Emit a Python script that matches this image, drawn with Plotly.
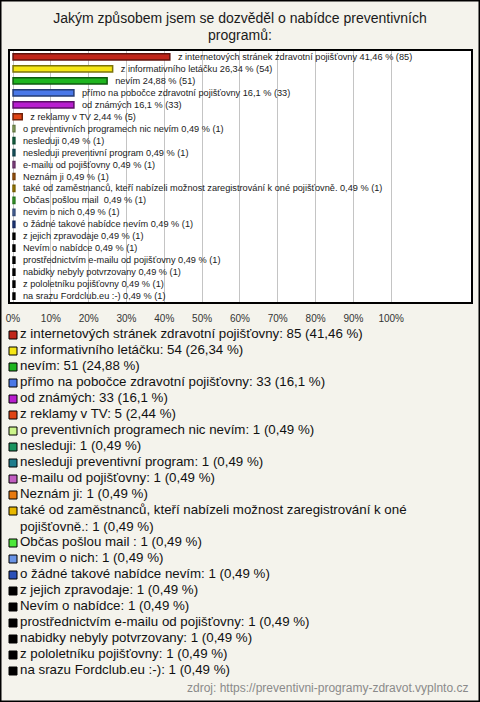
import textwrap
import plotly.graph_objects as go

W, H = 480, 702

title_lines = ["Jakým způsobem jsem se dozvěděl o nabídce preventivních", "programů:"]
source_text = "zdroj: https://preventivni-programy-zdravot.vyplnto.cz"

labels = [
    "z internetových stránek zdravotní pojišťovny",
    "z informativního letáčku",
    "nevím",
    "přímo na pobočce zdravotní pojišťovny",
    "od známých",
    "z reklamy v TV",
    "o preventivních programech nic nevím",
    "nesleduji",
    "nesleduji preventivní program",
    "e-mailu od pojišťovny",
    "Neznám ji",
    "také od zaměstnanců, kteří nabízeli možnost zaregistrování k oné pojišťovně.",
    "Občas pošlou mail ",
    "nevim o nich",
    "o žádné takové nabídce nevím",
    "z jejich zpravodaje",
    "Nevím o nabídce",
    "prostřednictvím e-mailu od pojišťovny",
    "nabidky nebyly potvrzovany",
    "z pololetníku pojišťovny",
    "na srazu Fordclub.eu :-)",
]
counts = [85, 54, 51, 33, 33, 5, 1, 1, 1, 1, 1, 1, 1, 1, 1, 1, 1, 1, 1, 1, 1]
percents = [41.46, 26.34, 24.88, 16.1, 16.1, 2.44, 0.49, 0.49, 0.49, 0.49, 0.49,
            0.49, 0.49, 0.49, 0.49, 0.49, 0.49, 0.49, 0.49, 0.49, 0.49]
colors = ["#c0261a", "#f5e616", "#1fb51f", "#4a78e8", "#b81ecf", "#e04414",
          "#ccf58a", "#1a9460", "#1f7c8c", "#c25ec2", "#e87a10", "#e8b800",
          "#4ee83a", "#6a94e6", "#2a50b8", "#000000", "#000000", "#000000",
          "#000000", "#000000", "#000000"]
x_ticks = [0, 10, 20, 30, 40, 50, 60, 70, 80, 90, 100]
x_tick_labels = ["0%", "10%", "20%", "30%", "40%", "50%", "60%", "70%", "80%", "90%", "100%"]

FONT = "Liberation Sans, Arial, sans-serif"


def fmt(v):
    return f"{v:g}".replace(".", ",")


def darker(c, f=0.5):
    c = c.lstrip("#")
    r, g, b = (int(c[i:i + 2], 16) for i in (0, 2, 4))
    return f"rgb({int(r * f)},{int(g * f)},{int(b * f)})"


bar_text = ["\u00a0\u00a0" + f"{l} {fmt(p)} % ({c})" for l, p, c in zip(labels, percents, counts)]
legend_text = [f"{l}: {c} ({fmt(p)} %)" for l, p, c in zip(labels, percents, counts)]
legend_lines = [textwrap.wrap(t, 66) for t in legend_text]

# line index of each legend entry
first_line = []
n = 0
for ls in legend_lines:
    first_line.append(n)
    n += len(ls)
total_lines = n
text_y = [f + (len(ls) - 1) / 2 for f, ls in zip(first_line, legend_lines)]

fig = go.Figure()

# main bars
fig.add_trace(go.Bar(
    x=percents, y=labels, orientation="h",
    marker=dict(color=colors, line=dict(color=[darker(c) for c in colors], width=1.5)),
    width=0.52,
    text=bar_text, textposition="outside", cliponaxis=False, constraintext="none",
    textfont=dict(family=FONT, size=9.2, color="#1a1a1a"),
    xaxis="x", yaxis="y", showlegend=False, hoverinfo="skip",
))

# legend swatches
fig.add_trace(go.Scatter(
    x=[0] * len(labels), y=first_line, mode="markers",
    marker=dict(symbol="square", size=8, color=colors, line=dict(color="#000000", width=1)),
    xaxis="x2", yaxis="y2", showlegend=False, hoverinfo="skip",
))
# legend texts
fig.add_trace(go.Scatter(
    x=[7] * len(labels), y=text_y, mode="text",
    text=["<br>".join(ls) for ls in legend_lines], textposition="middle right",
    textfont=dict(family=FONT, size=13.3, color="#111111"),
    xaxis="x2", yaxis="y2", showlegend=False, hoverinfo="skip",
))

plot_l, plot_r, plot_t, plot_b = 10, 471, 51, 302
leg_t = 327
leg_b = leg_t + 16 * total_lines

fig.update_layout(
    width=W, height=H,
    margin=dict(l=0, r=0, t=0, b=0),
    paper_bgcolor="#f4f3ec",
    plot_bgcolor="rgba(0,0,0,0)",
    xaxis=dict(
        domain=[plot_l / W, plot_r / W], range=[-0.8, 121.1],
        tickvals=x_ticks, ticktext=x_tick_labels, ticks="",
        ticklabelstandoff=6,
        showgrid=True, gridcolor="#c4c4c4", gridwidth=1, zeroline=False,
        showline=True, mirror=True, linecolor="#000000", linewidth=1.5,
        tickfont=dict(family=FONT, size=10, color="#333333"),
        fixedrange=True, automargin=False,
    ),
    yaxis=dict(
        domain=[1 - plot_b / H, 1 - plot_t / H], autorange="reversed",
        type="category", showticklabels=False, showgrid=False, zeroline=False,
        showline=True, mirror=True, linecolor="#000000", linewidth=1.5,
        fixedrange=True, automargin=False,
    ),
    xaxis2=dict(
        domain=[0, 1], range=[-13, W - 13], visible=False, anchor="y2",
        fixedrange=True,
    ),
    yaxis2=dict(
        domain=[1 - leg_b / H, 1 - leg_t / H], range=[total_lines - 0.5, -0.5],
        visible=False, anchor="x2", fixedrange=True,
    ),
    title=dict(
        text=title_lines[0], x=0.5, xanchor="center", xref="paper",
        y=1 - 18.5 / H, yanchor="middle", yref="container",
        font=dict(family=FONT, size=14, color="#1a1a1a"),
    ),
    annotations=[
        dict(text=title_lines[1], xref="paper", yref="paper", x=0.5, y=1 - 35.5 / H,
             xanchor="center", yanchor="middle", showarrow=False,
             font=dict(family=FONT, size=14, color="#1a1a1a")),
        dict(text=source_text, xref="paper", yref="paper",
             x=1 - 10 / W, y=1 - 688 / H, xanchor="right", yanchor="middle",
             showarrow=False,
             font=dict(family=FONT, size=12, color="#8a8a8a")),
    ],
    shapes=[
        dict(type="rect", xref="x domain", yref="y domain", x0=0, x1=1, y0=0, y1=1,
             fillcolor="#ffffff", line=dict(width=0), layer="below"),
        dict(type="rect", xref="paper", yref="paper", x0=0, x1=1, y0=0, y1=1,
             line=dict(color="#000000", width=3), layer="above"),
    ],
)

fig.write_html("out.html", config={"displayModeBar": False},
               post_script="document.body.style.margin='0';")
